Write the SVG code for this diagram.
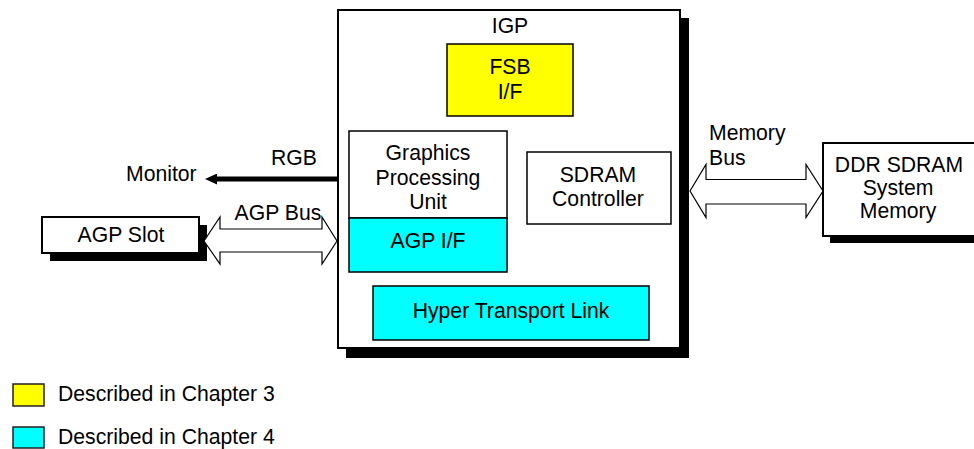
<svg xmlns="http://www.w3.org/2000/svg" width="974" height="449" viewBox="0 0 974 449">
<defs>
<style>
text{font-family:"Liberation Sans",Arial,sans-serif;font-size:21.2px;fill:#000;}
.c{text-anchor:middle;}
.box{fill:#fff;stroke:#000;stroke-width:2;}
.shadow{fill:#000;}
.inner{stroke:#000;stroke-width:1.5;}
.yel{fill:#ffff00;}
.cyan{fill:#00ffff;}
.white{fill:#fff;}
.bus{fill:#fff;stroke:#000;stroke-width:1.2;stroke-linejoin:miter;}
.leg{stroke:#222;stroke-width:1.5;}
</style>
<marker id="ah" markerUnits="userSpaceOnUse" markerWidth="12" markerHeight="11" refX="5" refY="5.5" orient="auto">
<path d="M0,0 L12,5.5 L0,11 z" fill="#000"/>
</marker>
</defs>

<g id="igp">
<rect class="shadow" x="346" y="18" width="343" height="340"/>
<rect class="box" x="338" y="10" width="342" height="338"/>
<text class="c" x="510" y="33">IGP</text>
</g>

<g id="fsb-if">
<rect class="inner yel" x="447" y="44" width="126" height="72"/>
<text class="c" x="510" y="73.5">FSB</text>
<text class="c" x="510" y="99">I/F</text>
</g>

<g id="gpu">
<rect class="inner white" x="349" y="131" width="158" height="87"/>
<text class="c" x="428" y="160">Graphics</text>
<text class="c" x="428" y="184.5">Processing</text>
<text class="c" x="428" y="209">Unit</text>
</g>

<g id="agp-if">
<rect class="inner cyan" x="349" y="218" width="158" height="54"/>
<text class="c" x="428" y="248">AGP I/F</text>
</g>

<g id="sdram-ctrl">
<rect class="inner white" x="527" y="152" width="144" height="72"/>
<text class="c" x="598" y="181.5">SDRAM</text>
<text class="c" x="598" y="206">Controller</text>
</g>

<g id="ht-link">
<rect class="inner cyan" x="373" y="286" width="276" height="54"/>
<text class="c" x="511" y="318">Hyper Transport Link</text>
</g>

<g id="agp-slot">
<rect class="shadow" x="50" y="225" width="157" height="36"/>
<rect class="box" x="42" y="217" width="157" height="36"/>
<text class="c" x="121" y="241.5">AGP Slot</text>
</g>

<g id="ddr-sdram">
<rect class="shadow" x="830" y="150" width="160" height="93"/>
<rect class="box" x="823" y="143" width="160" height="93"/>
<text class="c" x="899" y="171.5">DDR SDRAM</text>
<text class="c" x="898" y="195">System</text>
<text class="c" x="898" y="218">Memory</text>
</g>

<g id="monitor">
<text x="126" y="180.5">Monitor</text>
</g>

<g id="connectors">
<line x1="337" y1="179" x2="212" y2="179" stroke="#000" stroke-width="5" marker-end="url(#ah)"/>
<text class="c" x="294" y="165">RGB</text>
<polygon class="bus" points="204,241 220,217 220,229 322,229 322,217 337,241 322,264 322,252 220,252 220,264"/>
<text class="c" x="278" y="220">AGP Bus</text>
<polygon class="bus" points="690,191 706,164.5 706,179.5 806,179.5 806,164.5 823,191 806,217.5 806,204 706,204 706,217.5"/>
<text x="709" y="140">Memory</text>
<text x="709" y="165">Bus</text>
</g>

<g id="legend">
<rect class="leg yel" x="13" y="384" width="31" height="22"/>
<text x="58" y="401">Described in Chapter 3</text>
<rect class="leg cyan" x="13" y="427" width="31" height="21"/>
<text x="58" y="444">Described in Chapter 4</text>
</g>
</svg>
